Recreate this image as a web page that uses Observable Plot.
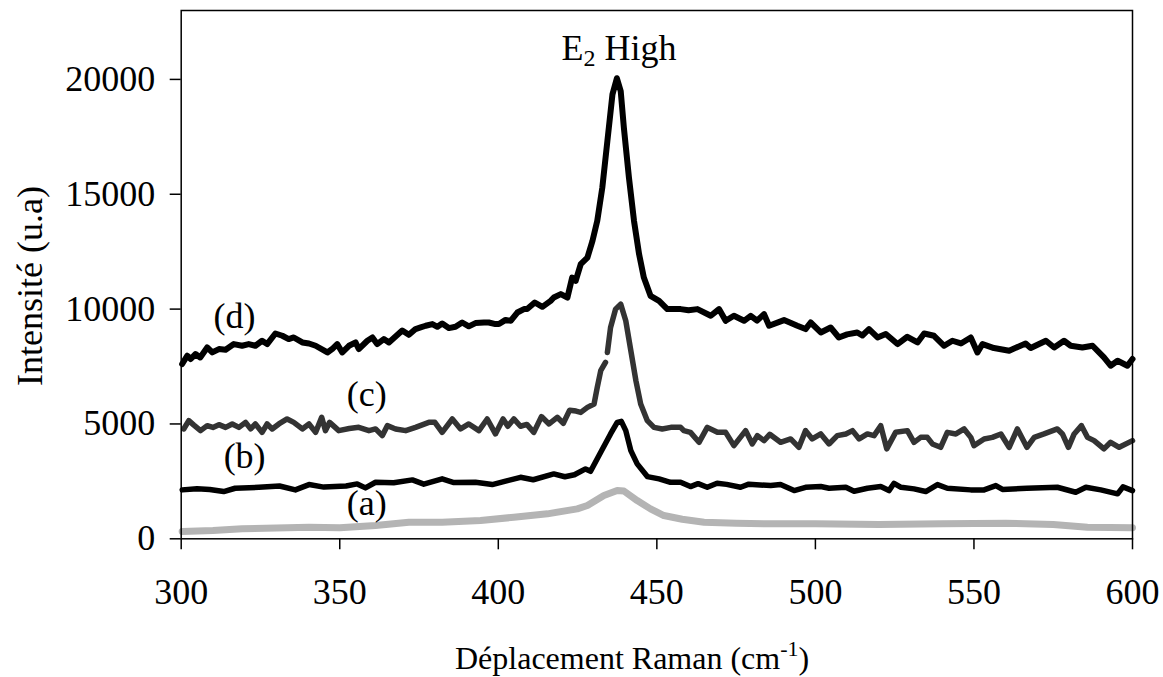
<!DOCTYPE html>
<html><head><meta charset="utf-8">
<script src="https://cdn.jsdelivr.net/npm/d3@7"></script>
<script src="https://cdn.jsdelivr.net/npm/@observablehq/plot@0.6"></script>
<style>
body{margin:0;background:#fff}
</style>
</head><body><div id="chart"></div>
<script>
// Series (d)
const shiftD = [300.3,301.9,303.0,304.5,306.0,308.2,309.8,311.9,314.0,316.6,319.2,321.3,323.4,325.5,327.1,329.7,331.9,333.9,335.5,338.2,340.3,342.4,346.1,347.6,349.2,350.8,352.9,355.0,356.0,358.7,360.3,361.8,363.9,365.5,369.7,371.8,373.9,375.5,377.1,379.2,380.8,382.3,384.4,386.5,388.6,390.7,392.8,395.5,397.0,399.1,400.2,402.3,403.9,406.0,408.1,409.1,411.5,413.9,416.5,417.5,419.7,421.8,423.3,424.4,426.0,428.1,429.7,431.2,432.8,434.4,436.0,437.4,438.6,439.6,441.2,442.8,444.4,445.9,448.0,450.7,453.3,457.5,460.0,462.8,467.0,469.6,471.7,474.3,477.5,479.6,481.6,483.8,485.4,490.1,494.3,496.9,498.5,501.7,504.8,507.4,510.0,513.2,514.8,516.9,519.6,522.2,525.9,529.0,532.2,534.3,537.4,540.6,543.2,545.9,549.0,551.1,552.7,556.3,561.1,566.3,567.9,572.7,575.3,578.4,580.5,584.2,587.4,591.0,593.1,595.3,598.4,600.0];
const intD = [7609,7970,7826,8043,7896,8330,8113,8261,8230,8478,8404,8478,8404,8622,8478,8939,8839,8696,8765,8548,8504,8404,8113,8261,8478,8113,8404,8548,8261,8622,8765,8478,8696,8548,9070,8880,9130,9200,9274,9348,9230,9374,9174,9230,9417,9250,9390,9417,9417,9348,9348,9530,9491,9852,10000,10000,10287,10100,10361,10504,10652,10504,11374,11230,11957,12243,12970,13839,15287,17317,19348,20050,19491,17896,15722,13839,12391,11374,10578,10361,10000,10000,9950,10000,9709,10000,9491,9709,9491,9709,9500,9783,9274,9522,9274,9130,9417,8983,9200,8765,8900,8983,8850,9130,8765,8913,8478,8796,8548,8939,8839,8404,8622,8504,8765,8113,8478,8304,8187,8504,8304,8622,8330,8622,8404,8330,8404,7896,7535,7752,7535,7826];

// Series (c)  (null = gap in the trace)
const shiftC = [300.8,302.4,304.0,306.1,308.2,310.0,311.9,314.0,316.1,318.2,320.3,321.9,323.4,325.5,327.1,328.7,330.8,333.4,335.5,338.2,340.3,342.4,344.3,345.5,346.8,349.7,353.0,356.0,359.2,361.3,363.4,365.0,367.6,370.8,373.9,378.1,380.0,382.3,385.5,388.1,390.7,393.9,396.5,399.1,401.5,403.0,404.9,407.0,409.0,411.2,413.6,416.0,418.6,420.5,422.5,424.5,426.0,428.1,430.2,431.2,432.3,433.8,434.1,434.4,435.4,437.0,438.6,440.2,441.8,443.4,444.9,447.0,449.1,451.7,454.4,457.5,458.5,460.6,463.3,465.9,469.1,471.7,474.3,478.0,480.1,481.7,483.8,485.6,489.0,492.2,494.8,496.9,499.0,501.7,504.3,506.9,509.6,511.7,513.8,516.4,518.5,520.6,522.5,525.3,529.0,531.1,533.2,535.3,536.9,539.5,541.6,544.3,546.9,549.0,550.0,553.2,555.8,558.5,561.1,563.7,566.7,569.0,572.1,576.3,577.9,579.8,581.6,583.9,585.8,587.9,591.0,593.1,595.8,600.0];
const intC = [4783,5143,4950,4709,4926,4850,4970,4850,5000,4850,5070,4783,5000,4635,5000,4783,5000,5217,5070,4783,5000,4635,5287,4709,5070,4709,4800,4852,4709,4783,4491,4926,4783,4709,4852,5070,5070,4635,5217,4783,5000,4709,5217,4565,5217,4900,5217,4900,4980,4635,5320,5000,5290,5030,5600,5560,5504,5722,5870,6591,7317,7678,null,8113,9200,10000,10217,9491,8187,6883,5870,5143,4852,4783,4852,4852,4709,4635,4200,4852,4635,4635,4057,4709,4130,4491,4274,4550,4200,4348,3983,4709,4348,4565,4130,4491,4565,4709,4348,4565,4491,4926,3913,4635,4709,4200,4417,4417,4130,3983,4635,4565,4783,4417,4057,4348,4417,4565,3983,4783,3983,4417,4565,4783,4565,3983,4565,4926,4417,4274,3913,4200,3983,4274];

// Series (b)
const shiftB = [300.3,305,309,313.4,317,324.5,331,336.0,340.3,345,352,355.5,358.1,361.3,367,372.9,376.5,382.3,386,392.8,398.1,402,407.0,411,417.5,421,424,427.5,429.1,432.3,435.4,437.5,438.8,440.2,441.8,443.8,447.0,450.7,454.3,457.5,460.6,463.0,465.9,469,472,476.4,479,485.9,489,493.3,496.9,501.7,504.3,509.6,512.2,516.4,520.6,523.2,524.8,527,531.1,534.8,538.5,541.6,549,553.2,556.9,559,566.7,576.3,582.1,585.3,590,595.3,597,600];
const intB = [2130,2180,2150,2057,2200,2243,2300,2130,2361,2250,2300,2390,2217,2461,2440,2565,2380,2609,2450,2461,2361,2500,2678,2570,2826,2700,2790,3043,2939,3765,4565,5070,5113,4709,3839,3261,2709,2609,2461,2461,2274,2400,2243,2420,2370,2243,2380,2317,2361,2100,2243,2274,2200,2243,2070,2200,2274,2100,2417,2243,2174,2057,2361,2200,2130,2130,2317,2150,2200,2243,2026,2243,2130,1957,2260,2100];

// Series (a)
const shiftA = [300.3,310,319.2,330,340.3,350,361.3,371.8,382.3,394.4,404.9,415.5,424.9,428.1,433.3,437.5,439.6,443.8,448.0,452.2,458,464.9,475,485.9,500,520,540,560,575,585.8,600];
const intA = [320,360,435,470,504,480,578,722,722,796,939,1087,1304,1448,1883,2100,2080,1665,1304,1013,850,722,680,652,650,620,650,680,620,504,478];

const xTicks = [300,350,400,450,500,550,600];
const yTicks = [0,5000,10000,15000,20000];

const labelText = ["(d)","(c)","(b)","(a)","E2 High"];
const labelX = [316.8,358.5,320,358.5,438.1];
const labelY = [9687,6265,3587,1557,21326];

const xTitleMain = "Déplacement Raman (cm";
const xTitleSup = "-1";
const xTitleEnd = ")";
const yTitle = "Intensité (u.a)";

const FONT = "Liberation Serif";
const rows = (xs, ys) => xs.map((x, i) => ({x, y: ys[i]}));
const labels = labelText.map((t, i) => ({t, x: labelX[i], y: labelY[i]}));

const svg = Plot.plot({
  width: 1163, height: 677,
  marginLeft: 180.7, marginRight: 31, marginTop: 10, marginBottom: 138.7,
  style: "font-family: 'Liberation Serif'; font-size: 36px; color: black; background: white;",
  x: {domain: [300, 600]},
  y: {domain: [0, 23000]},
  marks: [
    Plot.axisX(xTicks, {tickSize: 11, tickPadding: 29, strokeWidth: 1.5, fontSize: 36, fontFamily: FONT, label: null}),
    Plot.axisY(yTicks, {tickSize: 11, tickPadding: 15, strokeWidth: 1.5, fontSize: 36, fontFamily: FONT, label: null, tickFormat: d => String(d)}),
    Plot.line(rows(shiftA, intA), {x: "x", y: "y", stroke: "#b4b4b4", strokeWidth: 7}),
    Plot.line(rows(shiftB, intB), {x: "x", y: "y", stroke: "black", strokeWidth: 5.5}),
    Plot.line(rows(shiftC, intC), {x: "x", y: "y", stroke: "#333333", strokeWidth: 5.5}),
    Plot.line(rows(shiftD, intD), {x: "x", y: "y", stroke: "black", strokeWidth: 6}),
    Plot.frame({stroke: "black", strokeWidth: 1.5}),
    Plot.text(labels, {x: "x", y: "y", text: "t", fontSize: 36, fontFamily: FONT, fill: "black"})
  ]
});

const s = d3.select(svg);

// subscript for E2
s.selectAll("text").filter(function() { return this.textContent === "E2 High"; }).each(function() {
  const t = d3.select(this);
  t.text(null);
  t.append("tspan").text("E");
  t.append("tspan").attr("dy", 6).attr("font-size", 24).text("2");
  t.append("tspan").attr("dy", -6).text(" High");
});

// axis titles
const xt = s.append("text").attr("x", 455).attr("y", 669).attr("font-size", 32).attr("font-family", FONT).attr("fill", "black").attr("text-anchor", "start");
xt.append("tspan").text(xTitleMain);
xt.append("tspan").attr("dy", -13).attr("font-size", 22).text(xTitleSup);
xt.append("tspan").attr("dy", 13).text(xTitleEnd);

s.append("text").attr("transform", "translate(42,286) rotate(-90)").attr("font-size", 36).attr("font-family", FONT).attr("fill", "black").attr("text-anchor", "middle").text(yTitle);

document.getElementById("chart").appendChild(svg);
</script>
</body></html>
